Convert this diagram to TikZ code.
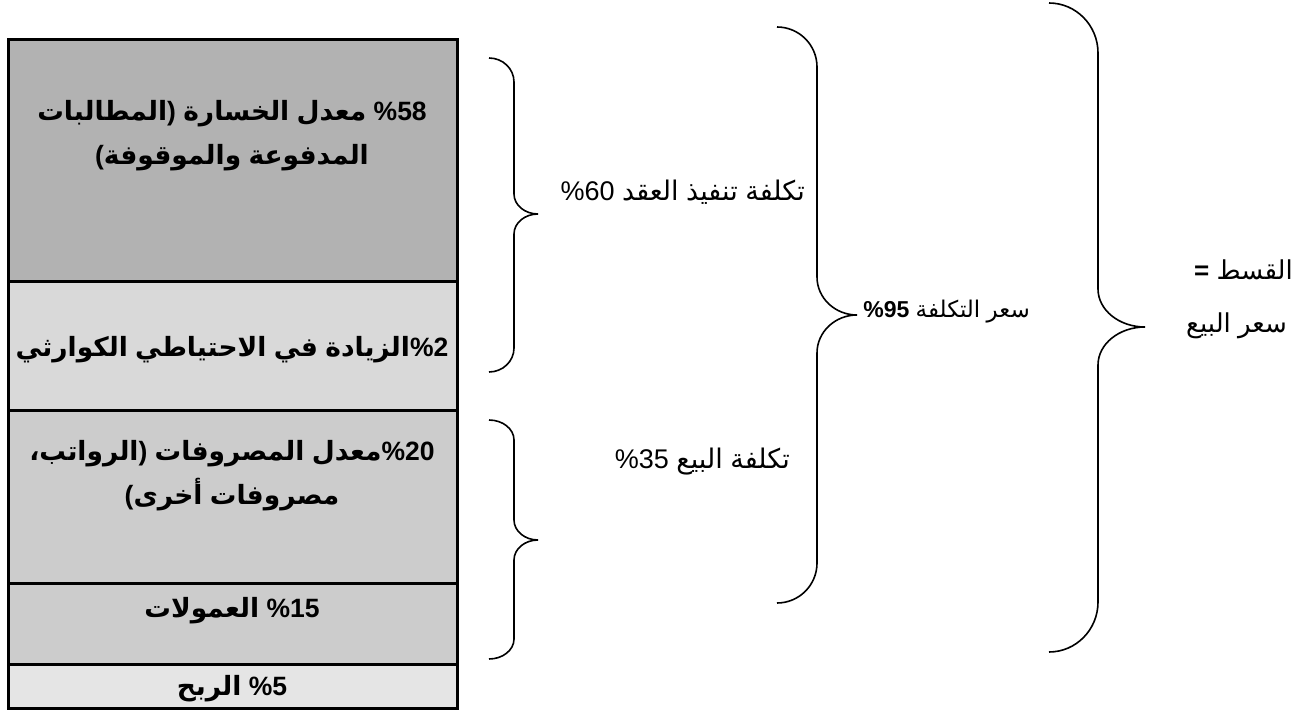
\documentclass[tikz,border=0pt]{standalone}
\usepackage{fontspec}
\setmainfont{Liberation Sans}
\newfontfamily\arabicfont[Script=Arabic]{DejaVu Sans}
\newcommand\ar[1]{{\arabicfont #1}}
\definecolor{boxA}{gray}{0.70}
\definecolor{boxB}{gray}{0.85}
\definecolor{boxC}{gray}{0.80}
\definecolor{boxD}{gray}{0.90}
\newcommand\drawbrace[8]{% x0 xv xt ytop ytip ybot r rt
  \draw[bracepen] (#1,#4)
    .. controls ({#1+0.552*(#2-#1)},#4) and (#2,{#4+#7-0.552*#7}) .. (#2,{#4+#7})
    -- (#2,{#5-#8})
    .. controls (#2,{#5-#8+0.552*#8}) and ({#3-0.552*(#3-#2)},#5) .. (#3,#5)
    .. controls ({#3-0.552*(#3-#2)},#5) and (#2,{#5+#8-0.552*#8}) .. (#2,{#5+#8})
    -- (#2,{#6-#7})
    .. controls (#2,{#6-#7+0.552*#7}) and ({#1+0.552*(#2-#1)},#6) .. (#1,#6);
}
\begin{document}
\begin{tikzpicture}[x=1pt,y=-1pt,
  stackbox/.style={draw=black, line width=3pt},
  boxtxt/.style={font=\bfseries\fontsize{26.5}{44}\selectfont, align=center, inner sep=0pt},
  lbl/.style={font=\fontsize{27}{30}\selectfont, inner sep=0pt, anchor=east},
  bracepen/.style={draw=black, line width=1.6pt}]
\useasboundingbox (0,0) rectangle (1308,711);
\fill[white] (0,0) rectangle (1308,711);

% stacked boxes
\draw[stackbox, fill=boxA] (8,40) rectangle (457,281);
\draw[stackbox, fill=boxB] (8,281) rectangle (457,410);
\draw[stackbox, fill=boxC] (8,410) rectangle (457,583);
\draw[stackbox, fill=boxC] (8,583) rectangle (457,664);
\draw[stackbox, fill=boxD] (8,664) rectangle (457,708);

\node[boxtxt] (t1) at (232,136) {\ar{المطالبات})\ \ar{الخسارة} \ar{معدل} \%58\\(\ar{والموقوفة} \ar{المدفوعة}};
\node[boxtxt] (t2) at (232,350) {\ar{الكوارثي} \ar{الاحتياطي} \ar{في} \ar{الزيادة}\%2};
\node[boxtxt] (t3) at (232,476) {\ar{،}\kern0pt\ar{الرواتب})\ \ar{المصروفات} \ar{معدل}\%20\\(\ar{أخرى} \ar{مصروفات}};
\node[boxtxt] (t4) at (232,611) {\ar{العمولات} \%15};
\node[boxtxt] (t5) at (232,689) {\ar{الربح} \%5};

% braces
\drawbrace{489}{514}{538}{58}{214}{372}{24}{20}
\drawbrace{489}{514}{538}{420}{540}{659}{20}{20}
\drawbrace{777}{817}{857}{27}{315}{603}{40}{38}
\drawbrace{1049}{1098}{1145}{3}{327}{652}{50}{38}

% labels
\node[lbl] (l1) at (805,192) {\%60 \ar{العقد} \ar{تنفيذ} \ar{تكلفة}};
\node[lbl] (l2) at (790,462) {\%35 \ar{البيع} \ar{تكلفة}};
\node[lbl, font=\fontsize{23}{28}\selectfont] (l3) at (1030,312) {\textbf{\%95} \ar{التكلفة} \ar{سعر}};
\node[lbl, font=\fontsize{26}{30}\selectfont] (l4) at (1293,270) {\textbf{=} \ar{القسط}};
\node[lbl, font=\fontsize{26}{30}\selectfont] (l5) at (1287,326) {\ar{البيع} \ar{سعر}};
\end{tikzpicture}
\end{document}
